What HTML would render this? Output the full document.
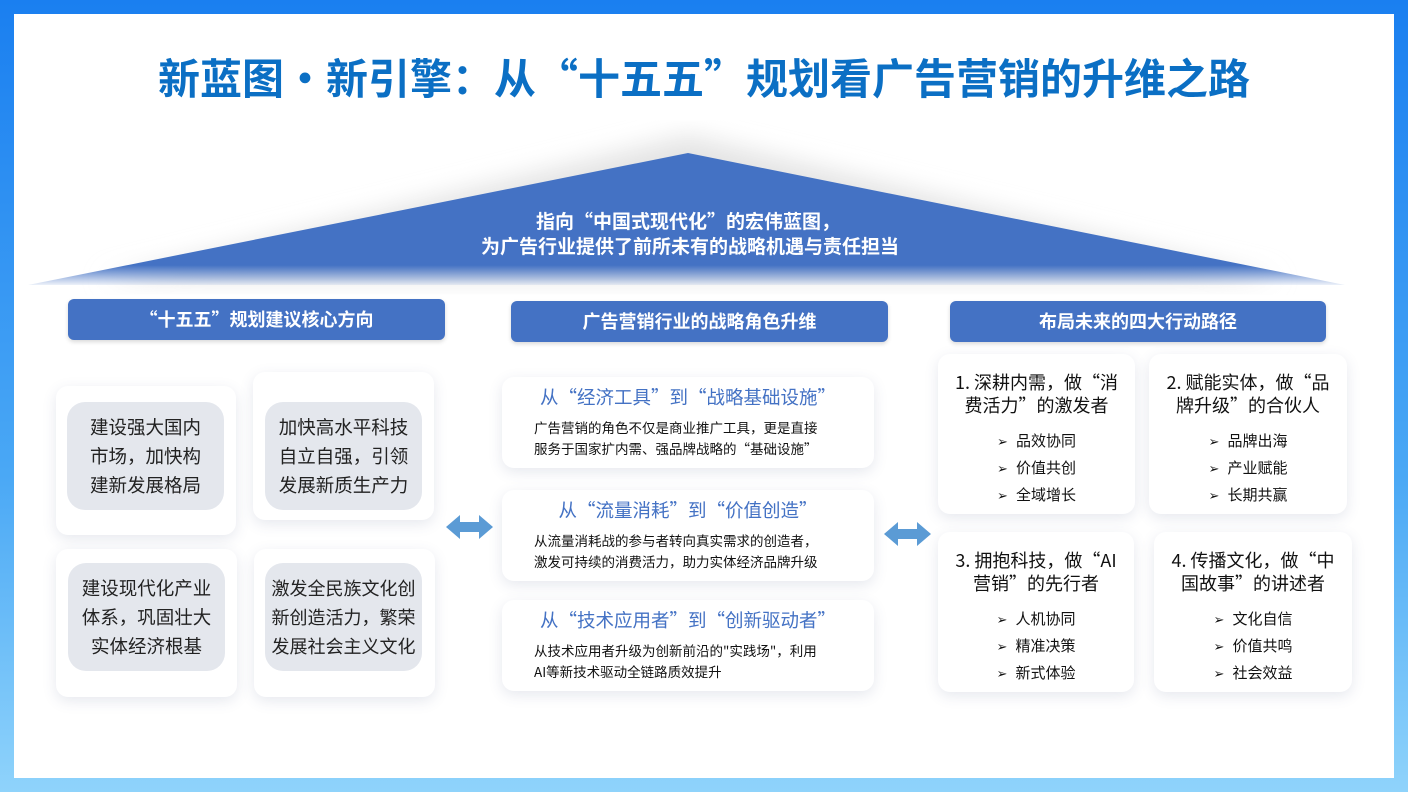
<!DOCTYPE html>
<html><head><meta charset="utf-8"><style>
*{margin:0;padding:0;box-sizing:border-box}
body{width:1408px;height:792px;position:relative;overflow:hidden;background:linear-gradient(180deg,#1a7ff0 0%,#4aa8f5 60%,#8fd3fb 100%);font-family:"Noto Sans CJK SC","Liberation Sans",sans-serif}
.inner{position:absolute;left:14px;top:14px;width:1380px;height:764px;background:#fff}
.abs{position:absolute}
.title{left:0;width:1408px;top:49px;text-align:center;font-size:42px;font-weight:bold;color:#0b6fc4;line-height:56px}
.hdr{background:#4472c4;border-radius:6px;color:#fff;font-size:18px;font-weight:bold;text-align:center;line-height:41px;height:41px;box-shadow:0 2px 4px rgba(0,0,0,.15)}
.wc{background:#fff;border-radius:12px;box-shadow:0 4px 14px rgba(60,80,120,.13)}
.gc{background:#e4e7ed;border-radius:18px;font-size:18.5px;color:#222;text-align:center;line-height:29px;display:flex;align-items:center;justify-content:center}
.mc .h{color:#4472c4;font-size:18.5px;text-align:center;margin-top:6px;line-height:28px}
.mc .b{font-size:13.5px;color:#111;line-height:21px;margin:6px 0 0 32px}
.rc{text-align:center;color:#111}
.rc .h{font-size:18px;line-height:23px;margin-top:17px}
.rc ul{list-style:none;margin:11px auto 0;display:inline-block;text-align:left;font-size:15px;line-height:25px}
.rc li:before{content:"➢";margin-right:8px;font-size:13px;font-family:"DejaVu Sans",sans-serif}
</style></head><body>
<div class="inner"></div>
<div class="abs title">新蓝图•新引擎：从“十五五”规划看广告营销的升维之路</div>
<svg class="abs" style="left:0;top:120px" width="1408" height="190">
<defs>
<linearGradient id="tf" x1="0" y1="0" x2="0" y2="1"><stop offset="0.85" stop-color="#4472c4"/><stop offset="1" stop-color="#4472c4" stop-opacity="0.1"/></linearGradient>
<filter id="bl"><feGaussianBlur stdDeviation="12"/></filter>
</defs>
<polygon points="688,15 1280,160 100,160" fill="#e4e4e4" filter="url(#bl)"/>
<polygon points="688,33 1345,165 28,165" fill="url(#tf)"/>
<text x="688" y="108" text-anchor="middle" fill="#fff" font-size="19" font-weight="bold" font-family="Noto Sans CJK SC,sans-serif">指向“中国式现代化”的宏伟蓝图，</text>
<text x="690" y="133" text-anchor="middle" fill="#fff" font-size="19" font-weight="bold" font-family="Noto Sans CJK SC,sans-serif">为广告行业提供了前所未有的战略机遇与责任担当</text>
</svg>
<div class="abs hdr" style="left:68px;top:299px;width:377px">“十五五”规划建议核心方向</div>
<div class="abs hdr" style="left:511px;top:301px;width:377px">广告营销行业的战略角色升维</div>
<div class="abs hdr" style="left:950px;top:301px;width:376px">布局未来的四大行动路径</div>

<div class="abs wc" style="left:56px;top:386px;width:180px;height:149px"></div>
<div class="abs wc" style="left:253px;top:372px;width:181px;height:148px"></div>
<div class="abs wc" style="left:56px;top:549px;width:181px;height:148px"></div>
<div class="abs wc" style="left:254px;top:549px;width:181px;height:148px"></div>
<div class="abs gc" style="left:67px;top:402px;width:157px;height:108px">建设强大国内<br>市场，加快构<br>建新发展格局</div>
<div class="abs gc" style="left:265px;top:402px;width:157px;height:108px">加快高水平科技<br>自立自强，引领<br>发展新质生产力</div>
<div class="abs gc" style="left:68px;top:563px;width:157px;height:108px">建设现代化产业<br>体系，巩固壮大<br>实体经济根基</div>
<div class="abs gc" style="left:265px;top:563px;width:157px;height:108px;font-size:18px">激发全民族文化创<br>新创造活力，繁荣<br>发展社会主义文化</div>

<svg class="abs" style="left:446px;top:514px" width="48" height="28"><polygon points="0,13 14,1 14,8 33,8 33,1 47,13 33,25 33,18 14,18 14,25" fill="#5b9bd5"/></svg>
<svg class="abs" style="left:884px;top:521px" width="48" height="28"><polygon points="0,13 14,1 14,8 33,8 33,1 47,13 33,25 33,18 14,18 14,25" fill="#5b9bd5"/></svg>

<div class="abs wc mc" style="left:502px;top:377px;width:372px;height:91px"><div class="h">从“经济工具”到“战略基础设施”</div><div class="b">广告营销的角色不仅是商业推广工具，更是直接<br>服务于国家扩内需、强品牌战略的“基础设施”</div></div>
<div class="abs wc mc" style="left:502px;top:490px;width:372px;height:91px"><div class="h">从“流量消耗”到“价值创造”</div><div class="b">从流量消耗战的参与者转向真实需求的创造者，<br>激发可持续的消费活力，助力实体经济品牌升级</div></div>
<div class="abs wc mc" style="left:502px;top:600px;width:372px;height:91px"><div class="h">从“技术应用者”到“创新驱动者”</div><div class="b">从技术应用者升级为创新前沿的"实践场"，利用<br>AI等新技术驱动全链路质效提升</div></div>

<div class="abs wc rc" style="left:938px;top:354px;width:197px;height:160px"><div class="h">1. 深耕内需，做“消<br>费活力”的激发者</div><ul><li>品效协同</li><li>价值共创</li><li>全域增长</li></ul></div>
<div class="abs wc rc" style="left:1149px;top:354px;width:198px;height:160px"><div class="h">2. 赋能实体，做“品<br>牌升级”的合伙人</div><ul><li>品牌出海</li><li>产业赋能</li><li>长期共赢</li></ul></div>
<div class="abs wc rc" style="left:938px;top:532px;width:196px;height:160px"><div class="h">3. 拥抱科技，做“AI<br>营销”的先行者</div><ul><li>人机协同</li><li>精准决策</li><li>新式体验</li></ul></div>
<div class="abs wc rc" style="left:1154px;top:532px;width:198px;height:160px"><div class="h">4. 传播文化，做“中<br>国故事”的讲述者</div><ul><li>文化自信</li><li>价值共鸣</li><li>社会效益</li></ul></div>
</body></html>
